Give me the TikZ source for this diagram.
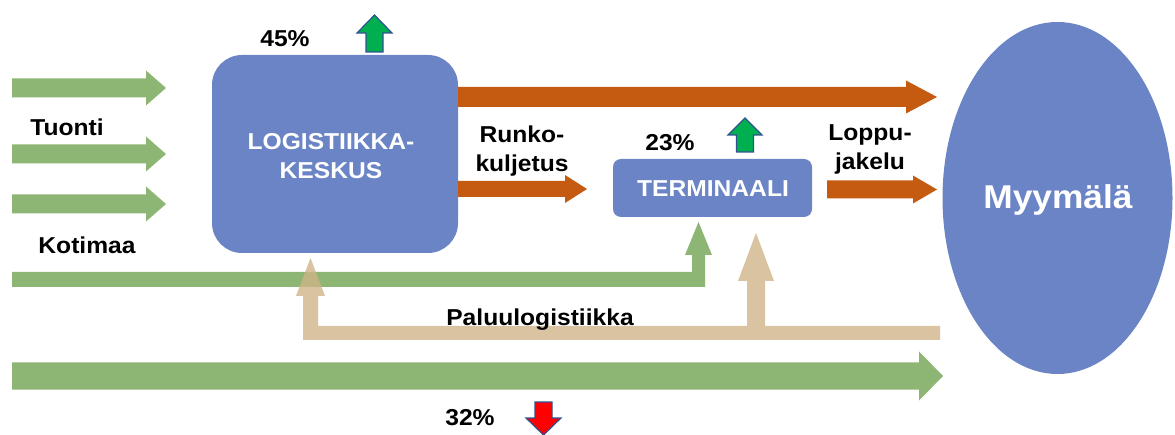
\documentclass[tikz,border=0pt]{standalone}
\usepackage{fontspec}
\usetikzlibrary{shapes.geometric}
\setmainfont{Liberation Sans}[FakeStretch=1.07]
\definecolor{boxblue}{HTML}{6A84C5}
\definecolor{flowgreen}{HTML}{8DB573}
\definecolor{tanbase}{RGB}{207,180,136}
\definecolor{orangeflow}{HTML}{C55A11}
\definecolor{upgreen}{HTML}{00B050}
\definecolor{outlineblue}{HTML}{2F528F}
\newcommand\rarrowshape[7]{% x1,x2,y,halfshaft,halfhead,headlen,style
  \filldraw[#7] (#1,#3-#4) -- (#2-#6,#3-#4) -- (#2-#6,#3-#5) -- (#2,#3) -- (#2-#6,#3+#5) -- (#2-#6,#3+#4) -- (#1,#3+#4) -- cycle;}
\newcommand\uarrowshape[7]{% x,ytip,ybottom,halfshaft,halfhead,headlen,style
  \filldraw[#7] (#1-#4,#3) -- (#1-#4,#2+#6) -- (#1-#5,#2+#6) -- (#1,#2) -- (#1+#5,#2+#6) -- (#1+#4,#2+#6) -- (#1+#4,#3) -- cycle;}
\newcommand\darrowshape[7]{% x,ytop,ytip,halfshaft,halfhead,headlen,style
  \filldraw[#7] (#1-#4,#2) -- (#1-#4,#3-#6) -- (#1-#5,#3-#6) -- (#1,#3) -- (#1+#5,#3-#6) -- (#1+#4,#3-#6) -- (#1+#4,#2) -- cycle;}
\tikzset{
  lbl/.style={font=\fontsize{23}{29}\selectfont\bfseries, text=black, align=center, inner sep=0pt},
  wlbl/.style={font=\fontsize{23}{29}\selectfont\bfseries, text=white, align=center, inner sep=0pt},
  greenflow/.style={fill=flowgreen, draw=none},
  tanflow/.style={fill=tanbase, fill opacity=0.8, draw=none},
  orangeflowst/.style={fill=orangeflow, draw=none},
  upind/.style={fill=upgreen, draw=outlineblue, line width=1.2pt, line join=miter},
  downind/.style={fill=red, draw=outlineblue, line width=1.2pt, line join=miter},
}
\begin{document}
\begin{tikzpicture}[x=1pt,y=-1pt]
\useasboundingbox (0,0) rectangle (1175,435);
% Tuonti arrows
\rarrowshape{12}{166}{88}{9.5}{17.5}{20}{greenflow}
\rarrowshape{12}{166}{154}{9.5}{17.5}{20}{greenflow}
\rarrowshape{12}{166}{204}{9.5}{17.5}{20}{greenflow}
\node[lbl] (tuonti) at (67,127) {Tuonti};
\node[lbl] (kotimaa) at (87,245) {Kotimaa};
% logistics centre
\node[draw=none, fill=boxblue, rounded corners=30pt, minimum width=246pt, minimum height=198pt, inner sep=0pt] (lk) at (335,154) {};
\node[wlbl] (lktext) at (331,156) {LOGISTIIKKA-\\KESKUS};
\node[lbl] (p45) at (285,39) {45\%};
\uarrowshape{374.5}{15}{52}{8.5}{17.5}{18}{upind}
% orange flows
\rarrowshape{458}{937}{97}{10}{16.5}{31}{orangeflowst}
\rarrowshape{458}{587}{189}{8}{14}{22}{orangeflowst}
\node[lbl] (runko) at (522,151) {Runko-\\kuljetus};
% terminal
\node[fill=boxblue, rounded corners=8pt, minimum width=199pt, minimum height=58pt, inner sep=0pt] (term) at (712.5,188) {};
\node[wlbl] (termtext) at (713,189) {TERMINAALI};
\node[lbl] (p23) at (670,143) {23\%};
\uarrowshape{745}{118}{152}{8.5}{17}{17}{upind}
\node[lbl] (loppu) at (870,149) {Loppu-\\jakelu};
\rarrowshape{827}{937}{189.5}{9}{14}{24}{orangeflowst}
% store
\node[ellipse, fill=boxblue, minimum width=230pt, minimum height=352pt, inner sep=0pt] (store) at (1057.5,198) {};
\node[wlbl, font=\fontsize{33}{40}\selectfont\bfseries] (storetext) at (1058,200) {Myymälä};
% Kotimaa L-arrow
\fill[flowgreen] (12,272) -- (692,272) -- (692,255) -- (685,255) -- (698.5,222) -- (712,255) -- (705,255) -- (705,287) -- (12,287) -- cycle;
% return logistics
\fill[tanflow] (940,326) -- (765,326) -- (765,281) -- (774,281) -- (756,233) -- (738,281) -- (747,281) -- (747,326)
  -- (318,326) -- (318,296) -- (325,296) -- (310.5,258) -- (296,296) -- (303,296) -- (303,340) -- (940,340) -- cycle;
\node[lbl] (paluu) at (540,320) {Paluulogistiikka};
% bottom direct flow
\rarrowshape{12}{943}{376}{13.5}{24.5}{24}{greenflow}
\node[lbl] (p32) at (470,418) {32\%};
\darrowshape{543.5}{402}{435}{8.5}{17.5}{17}{downind}
\end{tikzpicture}
\end{document}
